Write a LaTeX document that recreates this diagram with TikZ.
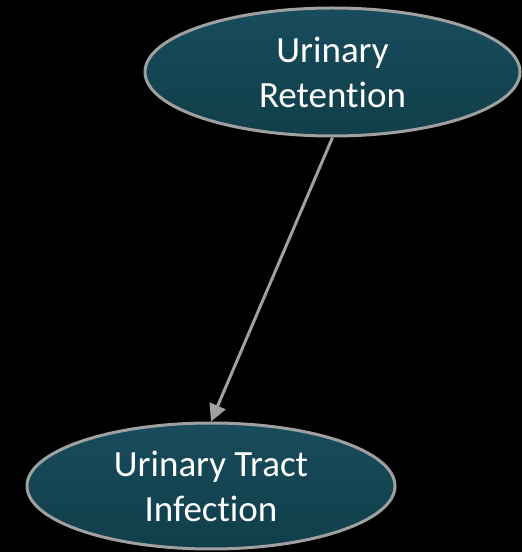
\documentclass[tikz,border=0pt]{standalone}
\usepackage{fontspec}
\setmainfont[Ligatures=NoCommon]{Carlito}
\usetikzlibrary{shapes.geometric,arrows.meta}
\definecolor{tealtop}{RGB}{24,76,92}
\definecolor{tealbot}{RGB}{17,62,74}
\definecolor{edgegray}{RGB}{160,160,160}
\tikzset{
  causebox/.style={ellipse, draw=edgegray, line width=3pt, top color=tealtop, bottom color=tealbot,
    text=white, font=\fontsize{37}{45}\selectfont, align=center, inner sep=0pt},
  conn/.style={draw=edgegray, line width=3pt, -{Triangle[length=17pt,width=17pt]}}
}
\begin{document}
\begin{tikzpicture}[x=1pt,y=1pt]
\fill[black] (0,0) rectangle (522,552);
\useasboundingbox (0,0) rectangle (522,552);
\node[causebox, minimum width=375pt, minimum height=128pt] (top) at (332.5,480) {Urinary\\Retention};
\node[causebox, minimum width=368pt, minimum height=126pt] (bot) at (211,66) {Urinary Tract\\Infection};
\draw[conn] (top.south) -- (bot.north);
\end{tikzpicture}
\end{document}
